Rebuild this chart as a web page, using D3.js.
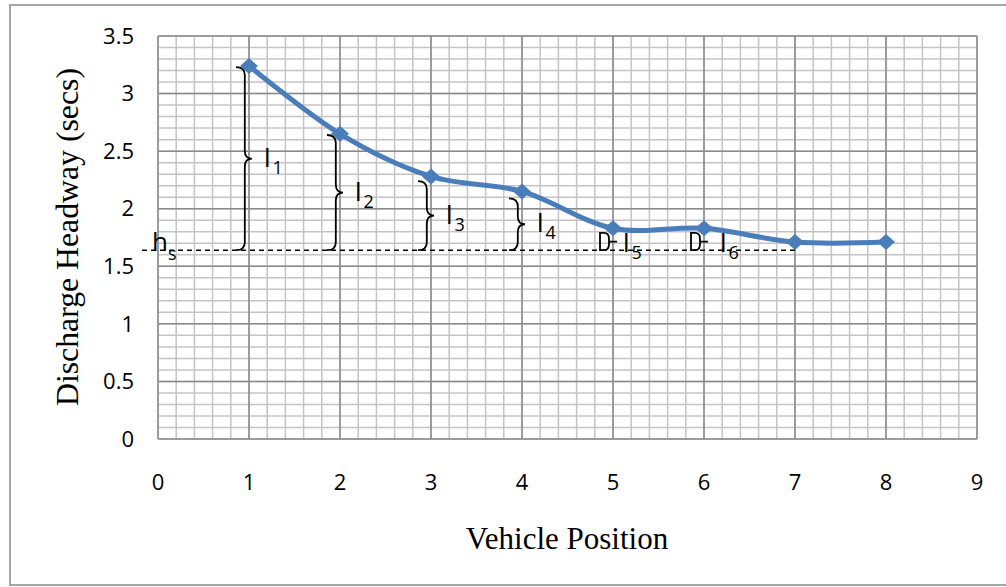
<!DOCTYPE html>
<html lang="en">
<head>
<meta charset="utf-8">
<title>Discharge Headway</title>
<style>
    body { margin: 0; background: #fff; }
    .tick { font-family: "Open Sans", "Liberation Sans", sans-serif; font-size: 22px; fill: #000; }
    .ann { font-family: "Open Sans", "Liberation Sans", sans-serif; font-size: 26px; fill: #000; }
    .sub { font-size: 18px; }
    .title { font-family: "Liberation Serif", "DejaVu Serif", serif; font-size: 31px; fill: #000; }
</style>
</head>
<body>
<script src="https://cdn.jsdelivr.net/npm/d3@7"></script>
<script>

    // data
    var positions = [1, 2, 3, 4, 5, 6, 7, 8];
    var headways = [3.24, 2.65, 2.28, 2.15, 1.83, 1.83, 1.71, 1.71];
    var satHeadway = 1.64;

    // brace annotations l1..l6 (top of each brace)
    var braceIdx = [1, 2, 3, 4, 5, 6];
    var braceTop = [3.23, 2.64, 2.24, 2.09, 1.79, 1.79];

    var xTicks = [0, 1, 2, 3, 4, 5, 6, 7, 8, 9];
    var yTicks = [0, 0.5, 1, 1.5, 2, 2.5, 3, 3.5];

    var W = 1006, H = 587;
    var margin = {left: 158, right: 29, top: 36, bottom: 148};

    var svg = d3.select("body").append("svg")
        .attr("width", W)
        .attr("height", H);

    // outer frame
    svg.append("rect")
        .attr("x", 10).attr("y", 5)
        .attr("width", 1010).attr("height", 580)
        .attr("fill", "none")
        .attr("stroke", "#a6a6a6")
        .attr("stroke-width", 2);

    var x = d3.scaleLinear().domain([0, 9]).range([margin.left, W - margin.right]);
    var y = d3.scaleLinear().domain([0, 3.5]).range([H - margin.bottom, margin.top]);

    // ************** grid *****************
    var minorX = d3.range(0, 9.0001, 0.2);
    var minorY = d3.range(0, 3.5001, 0.1);

    var grid = svg.append("g");
    grid.selectAll("line.mx").data(minorX).enter().append("line")
        .attr("x1", function(d) { return x(d); }).attr("x2", function(d) { return x(d); })
        .attr("y1", y(0)).attr("y2", y(3.5))
        .attr("stroke", "#c4c4c4").attr("stroke-width", 1.5);
    grid.selectAll("line.my").data(minorY).enter().append("line")
        .attr("y1", function(d) { return y(d); }).attr("y2", function(d) { return y(d); })
        .attr("x1", x(0)).attr("x2", x(9))
        .attr("stroke", "#c4c4c4").attr("stroke-width", 1.5);
    grid.selectAll("line.MX").data(xTicks).enter().append("line")
        .attr("x1", function(d) { return x(d); }).attr("x2", function(d) { return x(d); })
        .attr("y1", y(0)).attr("y2", y(3.5))
        .attr("stroke", "#8a8a8a").attr("stroke-width", 1.5);
    grid.selectAll("line.MY").data(yTicks).enter().append("line")
        .attr("y1", function(d) { return y(d); }).attr("y2", function(d) { return y(d); })
        .attr("x1", x(0)).attr("x2", x(9))
        .attr("stroke", "#8a8a8a").attr("stroke-width", 1.5);

    // ************** tick labels *****************
    svg.selectAll("text.xt").data(xTicks).enter().append("text")
        .attr("class", "tick")
        .attr("x", function(d) { return x(d); })
        .attr("y", 490)
        .attr("text-anchor", "middle")
        .text(function(d) { return d; });

    svg.selectAll("text.yt").data(yTicks).enter().append("text")
        .attr("class", "tick")
        .attr("x", 134)
        .attr("y", function(d) { return y(d); })
        .attr("dy", "0.35em")
        .attr("text-anchor", "end")
        .text(function(d) { return d; });

    // axis titles
    svg.append("text")
        .attr("class", "title")
        .attr("x", 567).attr("y", 549)
        .attr("text-anchor", "middle")
        .text("Vehicle Position");

    svg.append("text")
        .attr("class", "title")
        .attr("transform", "translate(78," + 237 + ") rotate(-90)")
        .attr("text-anchor", "middle")
        .attr("textLength", 338).attr("lengthAdjust", "spacingAndGlyphs")
        .text("Discharge Headway (secs)");

    // ************** saturation headway line *****************
    svg.append("line")
        .attr("x1", x(0) - 16).attr("x2", x(7))
        .attr("y1", y(satHeadway)).attr("y2", y(satHeadway))
        .attr("stroke", "#000").attr("stroke-width", 1.5)
        .attr("stroke-dasharray", "5,4");

    var hs = svg.append("text")
        .attr("class", "ann")
        .attr("x", x(0) - 6).attr("y", y(satHeadway) + 1);
    hs.append("tspan").text("h");
    hs.append("tspan").attr("class", "sub").attr("dy", 9).text("s");

    // ************** braces *****************
    function brace(x0, top, bottom, w) {
        var xm = x0 + w * 0.55, mid = (top + bottom) / 2;
        var r = Math.min(8, (bottom - top) / 4);
        return "M" + x0 + "," + top
            + "Q" + xm + "," + top + " " + xm + "," + (top + r)
            + "L" + xm + "," + (mid - r)
            + "Q" + xm + "," + mid + " " + (x0 + w) + "," + mid
            + "Q" + xm + "," + mid + " " + xm + "," + (mid + r)
            + "L" + xm + "," + (bottom - r)
            + "Q" + xm + "," + bottom + " " + x0 + "," + bottom;
    }

    braceIdx.forEach(function(p, i) {
        var top = y(braceTop[i]), bottom = y(satHeadway);
        var small = (bottom - top) < 30;
        var x0 = x(p) - 13;
        var w = small ? 9 : 16;
        if (small) {
            svg.append("path")
                .attr("d", "M" + x0 + "," + top + "L" + (x0 + 4) + "," + top
                    + "Q" + (x0 + w) + "," + top + " " + (x0 + w) + "," + (top + 6)
                    + "L" + (x0 + w) + "," + (bottom - 6)
                    + "Q" + (x0 + w) + "," + bottom + " " + (x0 + 4) + "," + bottom
                    + "L" + x0 + "," + bottom + "Z"
                    + "M" + (x0 + w) + "," + ((top + bottom) / 2) + "L" + (x0 + w + 8) + "," + ((top + bottom) / 2))
                .attr("fill", "none").attr("stroke", "#000").attr("stroke-width", 1.8);
        } else {
            svg.append("path")
                .attr("d", brace(x0, top, bottom, w))
                .attr("fill", "none").attr("stroke", "#000").attr("stroke-width", 1.8);
        }
        var lx = small ? x0 + w + 14 + (p === 6 ? 6 : 0) : x0 + w + 12;
        var ly = (top + bottom) / 2 + (small ? 10 : 8);
        var t = svg.append("text")
            .attr("class", "ann")
            .attr("x", lx).attr("y", ly);
        t.append("tspan").text("l");
        t.append("tspan").attr("class", "sub").attr("dx", 2).attr("dy", 7).text(p);
    });

    // ************** series *****************
    var pts = positions.map(function(p, i) { return [x(p), y(headways[i])]; });

    var line = d3.line().curve(d3.curveCatmullRom.alpha(0));
    svg.append("path")
        .attr("d", line(pts))
        .attr("fill", "none")
        .attr("stroke", "#4a7ebb")
        .attr("stroke-width", 5)
        .attr("stroke-linejoin", "round");

    svg.selectAll("path.marker").data(pts).enter().append("path")
        .attr("d", function(d) {
            return "M" + d[0] + "," + (d[1] - 8) + "L" + (d[0] + 9) + "," + d[1]
                + "L" + d[0] + "," + (d[1] + 8) + "L" + (d[0] - 9) + "," + d[1] + "Z";
        })
        .attr("fill", "#4a7ebb");

</script>
</body>
</html>
